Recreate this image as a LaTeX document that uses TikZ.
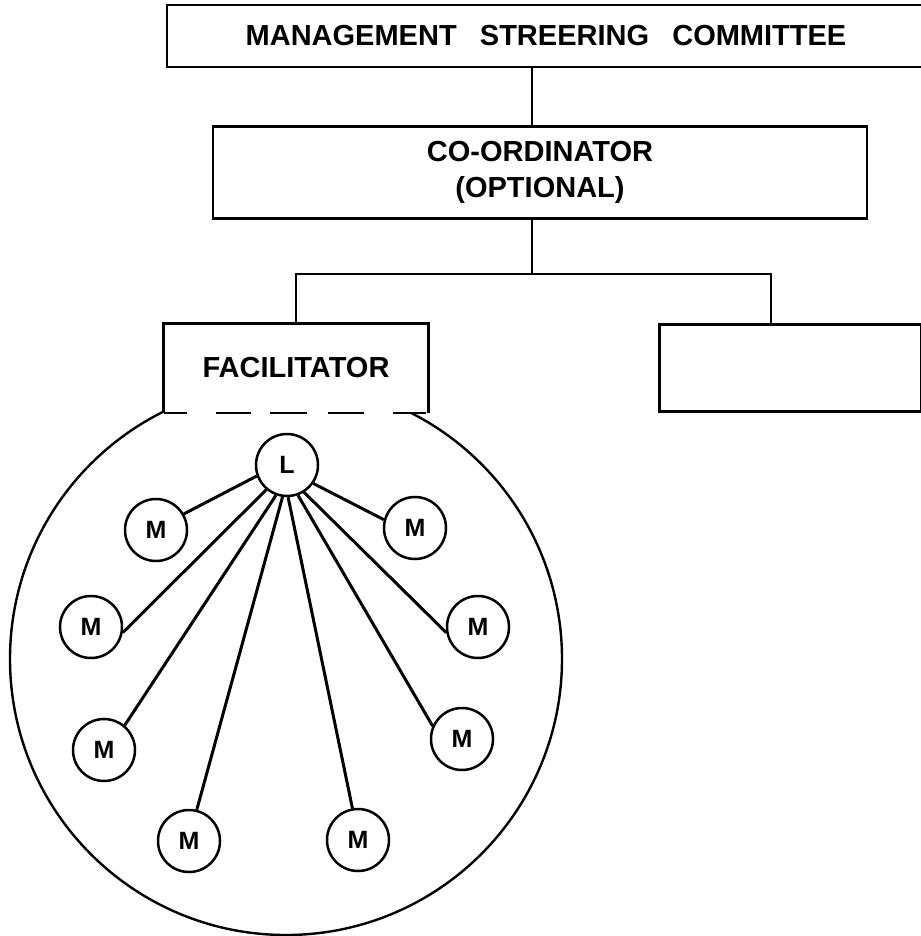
\documentclass[tikz,border=0pt]{standalone}
\usepackage{fontspec}
\setmainfont{Liberation Sans}
\usetikzlibrary{positioning}

\tikzset{member/.style = {circle, draw, line width=2.5pt, minimum size=62pt, inner sep=0pt, font=\fontsize{25}{30}\selectfont\bfseries}}

\begin{document}
\begin{tikzpicture}[x=1pt, y=-1pt]
            % Define node styles
            \tikzstyle{box} = [rectangle, draw, line width=2.6pt, inner sep=0pt, font=\fontsize{29}{36}\selectfont\bfseries, align=center]
            \tikzstyle{link} = [line width=2.6pt]
            \tikzstyle{spoke} = [line width=3pt]

            \useasboundingbox (0,0) rectangle (920,936);

            % Hierarchy boxes
            \node[box, minimum width=758pt, minimum height=62pt] (msc) at (546,36) {MANAGEMENT\hspace{0.8em}STREERING\hspace{0.8em}COMMITTEE};
            \node[box, minimum width=654pt, minimum height=92pt] (coord) [below=57pt of msc, xshift=-6pt] {CO-ORDINATOR\\(OPTIONAL)};

            % Group circle (drawn first, the facilitator box covers its top)
            \node[circle, draw, line width=2.4pt, minimum size=552pt, inner sep=0pt] (team) at (286,659) {};

            % Facilitator box with dashed bottom
            \node[box, draw=none, fill=white, minimum width=262pt, minimum height=87pt] (fac) at (296,368) {FACILITATOR};
            \draw[link] (fac.south west) -- (fac.north west) -- (fac.north east) -- (fac.south east);
            \draw[link, dash pattern=on 23pt off 29pt on 35pt off 19pt on 37pt off 21pt on 36pt off 29pt on 33pt] (fac.south west) -- (fac.south east);

            % Empty box on the right
            \node[box, minimum width=262pt, minimum height=87pt] (blank) [right=230pt of fac] {};

            % Connectors between boxes
            \coordinate (split) at (532,274);
            \coordinate (splitr) at (771,274);
            \draw[link] (split |- msc.south) -- (split |- coord.north);
            \draw[link] (split |- coord.south) -- (split);
            \draw[link] (fac.north) |- (splitr) -- (splitr |- blank.north);

            % Leader and members
            \node[member] (lead) at (287,465) {L};
            \node[member] (m1) at (156,530) {M};
            \node[member] (m2) at (415,528) {M};
            \node[member] (m3) at (91,627) {M};
            \node[member] (m4) at (478,627) {M};
            \node[member] (m5) at (104,750) {M};
            \node[member] (m6) at (462,739) {M};
            \node[member] (m7) at (189,841) {M};
            \node[member] (m8) at (358,840) {M};

            % Spokes from the leader
            \draw[spoke] (lead.200) -- (m1.30);
            \draw[spoke] (lead.-35) -- (m2.165);
            \draw[spoke] (lead.230) -- (m3.-10);
            \draw[spoke] (lead.302) -- (m4.190);
            \draw[spoke] (lead.250) -- (m5.50);
            \draw[spoke] (lead.290) -- (m6.156);
            \draw[spoke] (lead.262) -- (m7.76);
            \draw[spoke] (lead.272) -- (m8.100);

        \end{tikzpicture}
\end{document}
